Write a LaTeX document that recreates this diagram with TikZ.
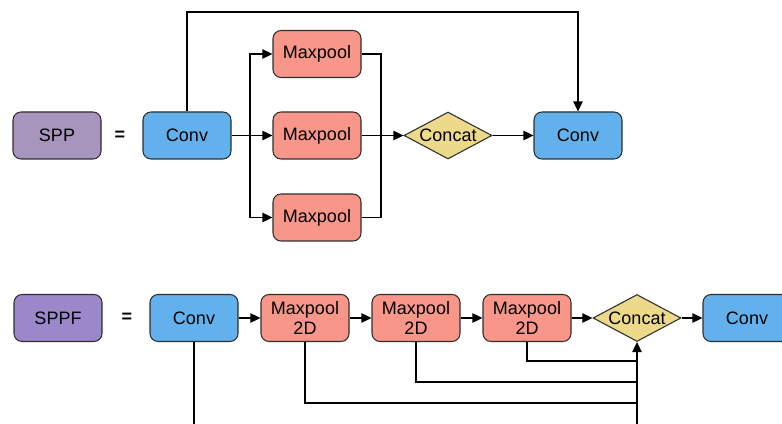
\documentclass[tikz,border=0pt]{standalone}
\usepackage{fontspec}
\setmainfont{Liberation Sans}
\usetikzlibrary{arrows.meta,shapes.geometric}
\definecolor{sppc}{HTML}{A895BE}
\definecolor{sppfc}{HTML}{9B88CB}
\definecolor{convc}{HTML}{62B1EC}
\definecolor{poolc}{HTML}{F8968A}
\definecolor{catc}{HTML}{ECDA8A}
\definecolor{edgec}{HTML}{2E2E2E}
\tikzset{
  box/.style={draw=edgec, line width=0.8pt, rounded corners=6pt, minimum width=66pt, minimum height=35.25pt, inner sep=1pt, align=center, font=\fontsize{13.5}{15}\selectfont},
  spp/.style={box, fill=sppc},
  sppf/.style={box, fill=sppfc},
  conv/.style={box, fill=convc},
  pool/.style={box, fill=poolc},
  cat/.style={diamond, draw=edgec, line width=0.8pt, fill=catc, minimum width=66pt, minimum height=35.25pt, inner sep=0pt, shape aspect=1.87, font=\fontsize{13.5}{15}\selectfont},
  eqs/.style={font=\fontsize{13.5}{15}\selectfont\bfseries},
  link/.style={line width=1pt, draw=black},
  arr/.style={link, -{Triangle[length=7.5pt,width=7pt]}},
}
\begin{document}
\begin{tikzpicture}[x=0.75pt, y=-0.75pt]
\useasboundingbox (0,0) rectangle (782,424);
\clip (0,0) rectangle (782,424);
% --- SPP ---
\node[spp] (spp) at (57,135.5) {SPP};
\node[eqs] (eq1) at (120,135.5) {=};
\node[conv] (c1) at (187,135.5) {Conv};
\node[pool] (p1) at (317,54) {Maxpool};
\node[pool] (p2) at (317,135.5) {Maxpool};
\node[pool] (p3) at (317,217.5) {Maxpool};
\node[cat] (cat1) at (448,135.5) {Concat};
\node[conv] (c2) at (578,135.5) {Conv};
\coordinate (br) at (250,135.5);
\coordinate (mg) at (381,135.5);
\coordinate (sk) at (0,12);
\draw[arr] (c1.east) -- (p2.west);
\draw[arr] (br) |- (p1.west);
\draw[arr] (br) |- (p3.west);
\draw[link] (p1.east) -| (mg);
\draw[link] (p3.east) -| (mg);
\draw[arr] (p2.east) -- (cat1.west);
\draw[arr] (cat1.east) -- (c2.west);
\draw[arr] (c1.north) -- (c1.north |- sk) -| (c2.north);
% --- SPPF ---
\node[sppf] (sppf) at (58,318) {SPPF};
\node[eqs] (eq2) at (127,318) {=};
\node[conv] (c3) at (194,318) {Conv};
\node[pool] (q1) at (305,318) {Maxpool\\2D};
\node[pool] (q2) at (416,318) {Maxpool\\2D};
\node[pool] (q3) at (527,318) {Maxpool\\2D};
\node[cat] (cat2) at (637,318) {Concat};
\node[conv] (c4) at (747,318) {Conv};
\coordinate (r1) at (0,361);
\coordinate (r2) at (0,382);
\coordinate (r3) at (0,403);
\coordinate (r0) at (0,445);
\draw[arr] (c3.east) -- (q1.west);
\draw[arr] (q1.east) -- (q2.west);
\draw[arr] (q2.east) -- (q3.west);
\draw[arr] (q3.east) -- (cat2.west);
\draw[arr] (cat2.east) -- (c4.west);
\draw[link] (q3.south) |- (cat2.south |- r1);
\draw[link] (q2.south) |- (cat2.south |- r2);
\draw[link] (q1.south) |- (cat2.south |- r3);
\draw[arr] (c3.south) |- (cat2.south |- r0) -- (cat2.south);
\end{tikzpicture}
\end{document}
